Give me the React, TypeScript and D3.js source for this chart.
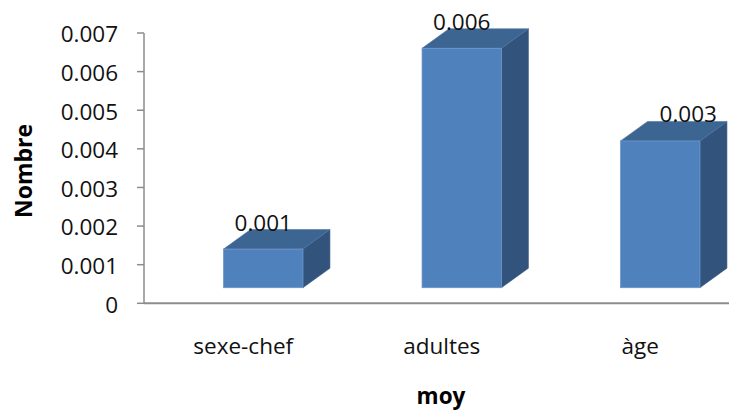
import React from "react";
import * as d3 from "d3";

// Mean values per variable
const categories: string[] = ["sexe-chef", "adultes", "àge"];
const values: number[] = [0.001, 0.0062, 0.0038];
const yTicks: number[] = [0, 0.001, 0.002, 0.003, 0.004, 0.005, 0.006, 0.007];
const yTickLabels: string[] = ["0", "0.001", "0.002", "0.003", "0.004", "0.005", "0.006", "0.007"];

const W = 729;
const H = 412;
const FONT = "'Open Sans', 'DejaVu Sans', sans-serif";
const FS = 22.5;

// Data labels show the value cut to three decimals
const fmtLabel = (v: number) => (Math.floor(v * 1000 + 1e-9) / 1000).toFixed(3);

export default function App() {
  const x0 = 144;
  const band = 198.5;
  const x = d3
    .scaleBand<string>()
    .domain(categories)
    .range([x0, x0 + band * categories.length])
    .padding(0);
  const y = d3.scaleLinear().domain([0, 0.007]).range([303.3, 33]);

  // oblique projection of the 3D columns
  const depth = { dx: 27, dy: -19.5 };
  const shift = { dx: 20, dy: -15.6 };
  const barW = x.bandwidth() * 0.4;
  const labelDx = [0, 0, 28];

  const axisColor = "#8c8c8c";

  return (
    <svg
      width={W}
      height={H}
      style={{ position: "absolute", left: 0, top: 0, background: "#fff" }}
      fontFamily={FONT}
    >
      <rect width={W} height={H} fill="#fff" />

      {/* value axis */}
      <line x1={x0} x2={x0} y1={y(0.007)} y2={y(0)} stroke={axisColor} strokeWidth={1.5} />
      {yTicks.map((t, i) => (
        <g key={i}>
          <line x1={x0 - 7} x2={x0} y1={y(t)} y2={y(t)} stroke={axisColor} strokeWidth={1.5} />
          <text x={118} y={y(t) + 9.3} textAnchor="end" fontSize={FS} fill="#111">
            {yTickLabels[i]}
          </text>
        </g>
      ))}

      {/* category axis */}
      <line x1={x0} x2={W} y1={y(0)} y2={y(0)} stroke={axisColor} strokeWidth={2} />

      {/* columns */}
      {categories.map((c, i) => {
        const cx = (x(c) as number) + x.bandwidth() / 2;
        const L = cx - barW / 2 + shift.dx;
        const R = L + barW;
        const B = y(0) + shift.dy;
        const T = y(values[i]) + shift.dy;
        const { dx, dy } = depth;
        const top = [
          [L, T],
          [R, T],
          [R + dx, T + dy],
          [L + dx, T + dy],
        ];
        const side = [
          [R, T],
          [R + dx, T + dy],
          [R + dx, B + dy],
          [R, B],
        ];
        const pts = (p: number[][]) => p.map((q) => q.join(",")).join(" ");
        return (
          <g key={c}>
            <polygon points={pts(side)} fill="#32547c" stroke="#3d5f88" strokeWidth={0.6} />
            <polygon points={pts(top)} fill="#3d6592" stroke="#4a73a3" strokeWidth={0.6} />
            <rect x={L} y={T} width={barW} height={B - T} fill="#4f81bd" stroke="#6b96cb" strokeWidth={0.8} />
            <text
              x={L + barW / 2 + labelDx[i]}
              y={T + dy + 1}
              textAnchor="middle"
              fontSize={FS}
              fill="#111"
            >
              {fmtLabel(values[i])}
            </text>
          </g>
        );
      })}

      {/* category labels */}
      {categories.map((c) => (
        <text
          key={c}
          x={(x(c) as number) + x.bandwidth() / 2}
          y={354}
          textAnchor="middle"
          fontSize={FS}
          fill="#111"
        >
          {c}
        </text>
      ))}

      {/* axis titles */}
      <text x={441} y={404} textAnchor="middle" fontSize={22.5} fontWeight="bold" fill="#000">
        moy
      </text>
      <text
        transform="translate(32,171) rotate(-90)"
        textAnchor="middle"
        fontSize={23}
        fontWeight="bold"
        fill="#000"
      >
        Nombre
      </text>
    </svg>
  );
}
